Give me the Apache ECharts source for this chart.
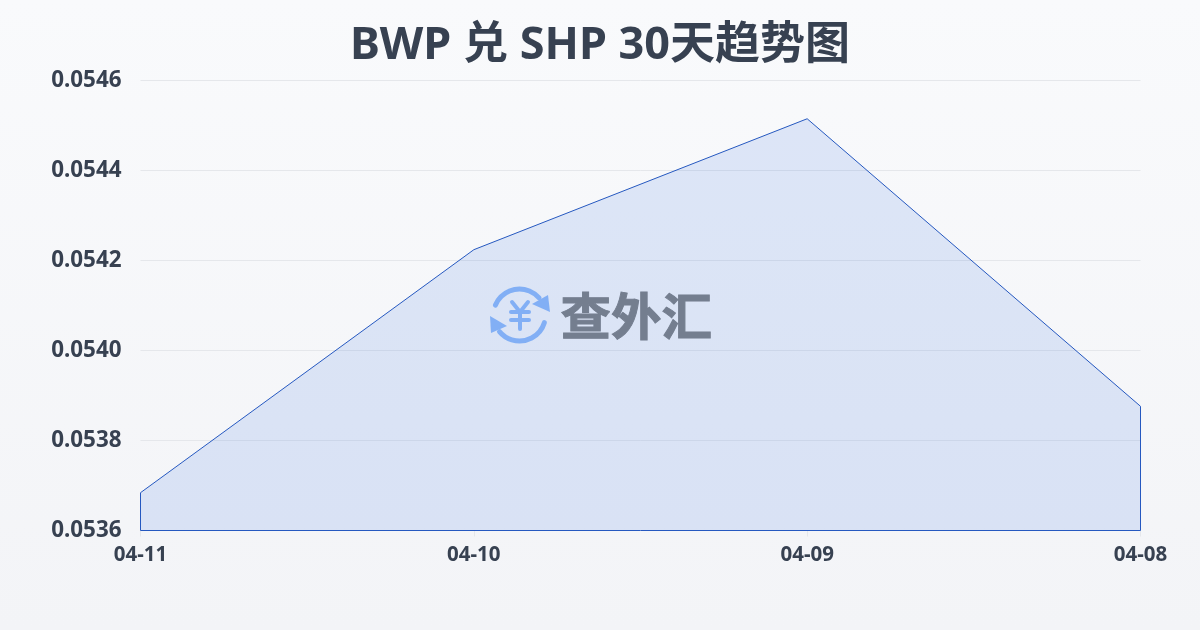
<!DOCTYPE html>
<html><head><meta charset="utf-8">
<style>html,body{margin:0;padding:0;background:#f6f8fa}#c{width:1200px;height:630px}</style>
<script src="https://cdn.jsdelivr.net/npm/echarts@6/dist/echarts.min.js"></script>
</head><body><div id="c"></div>
<script>
const titleText = 'BWP 兑 SHP 30天趋势图';
const categories = ['04-11','04-10','04-09','04-08'];
const rates = [0.053684,0.054224,0.054515,0.053876];
const yMin = 0.0536, yMax = 0.0546, yStep = 0.0002;
const font = '"Noto Sans","Noto Sans CJK SC",sans-serif';
const last = categories.length-1;
const closing = [[categories[0],rates[0]],[categories[0],yMin],[categories[last],yMin],[categories[last],rates[last]]];
const logo = '#90bbf9';
const yenStroke = {stroke:logo,lineWidth:4,fill:null,lineCap:'round',lineJoin:'round'};
const chart = echarts.init(document.getElementById('c'),null,{renderer:'canvas'});
chart.setOption({
  animation:false,
  backgroundColor:new echarts.graphic.LinearGradient(0,0,0,1,[{offset:0,color:'#f9fafc'},{offset:1,color:'#f3f4f7'}]),
  title:{text:titleText,left:'center',top:19,textStyle:{fontFamily:font,fontSize:45,fontWeight:'bold',color:'#374151'}},
  grid:{left:140.5,right:59.5,top:80.5,bottom:99.5},
  xAxis:{type:'category',boundaryGap:false,data:categories,
    axisLine:{show:false},
    axisTick:{show:true,length:6,lineStyle:{color:'#e5e7eb'}},
    axisLabel:{fontFamily:font,fontSize:20.5,fontWeight:'bold',color:'#374151',margin:14,hideOverlap:false,interval:0}},
  yAxis:{type:'value',min:yMin,max:yMax,interval:yStep,
    axisLine:{show:false},axisTick:{show:false},
    splitLine:{lineStyle:{color:'#e5e7eb',width:1}},
    axisLabel:{fontFamily:font,fontSize:22.4,fontWeight:'bold',color:'#374151',margin:19,padding:[0,0,2,0],formatter:v=>v.toFixed(4)}},
  series:[
   {type:'line',data:rates,symbol:'none',smooth:false,z:3,
    lineStyle:{color:'#2558c0',width:1},
    areaStyle:{color:'rgba(37,99,225,0.13)',opacity:1,origin:'start'}},
   {type:'line',data:closing,symbol:'none',z:3,lineStyle:{color:'#2558c0',width:1},silent:true}
  ],
  graphic:[
   {type:'group',z:10,silent:true,children:[
     {type:'arc',shape:{cx:519.5,cy:315,r:26,startAngle:-2.75,endAngle:-0.72},style:{stroke:logo,lineWidth:5,fill:null,lineCap:'round'}},
     {type:'arc',shape:{cx:519.5,cy:315,r:26,startAngle:0.3,endAngle:2.45},style:{stroke:logo,lineWidth:5,fill:null,lineCap:'round'}},
     {type:'polygon',shape:{points:[[550,312],[548,295],[532,304]]},style:{fill:logo}},
     {type:'polygon',shape:{points:[[490,316],[491,333],[507,326]]},style:{fill:logo}},
     {type:'polyline',shape:{points:[[512,302],[520,312],[528,302]]},style:yenStroke},
     {type:'line',shape:{x1:511,y1:312,x2:529,y2:312},style:yenStroke},
     {type:'line',shape:{x1:511,y1:320,x2:529,y2:320},style:yenStroke},
     {type:'line',shape:{x1:520,y1:312,x2:520,y2:329},style:yenStroke}
   ]},
   {type:'text',left:560,top:290,z:10,silent:true,style:{text:'查外汇',fontFamily:'"Noto Sans CJK SC",sans-serif',fontSize:50.5,fontWeight:'bold',fill:'#747e8f',stroke:'#747e8f',lineWidth:1}}
  ]
});
</script></body></html>
